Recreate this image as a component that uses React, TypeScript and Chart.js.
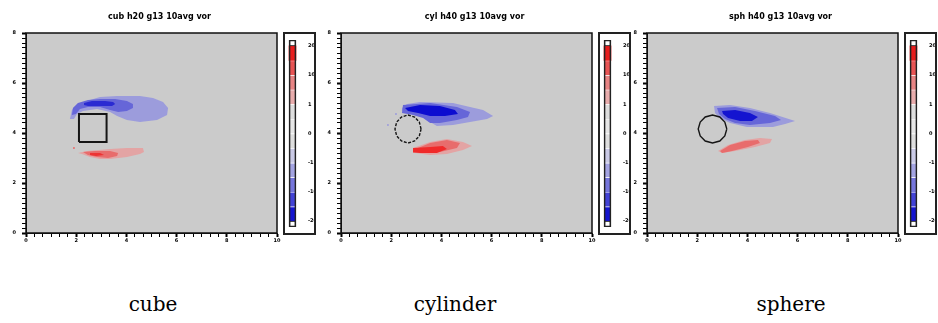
import React, { useEffect, useRef } from 'react';
import { Chart, registerables } from 'chart.js';
Chart.register(...registerables);

// ---------- axes ----------
const xMajorTicks = [0, 2, 4, 6, 8, 10];
const xMinorDivisions = 6;
const yMajorTicks = [0, 2, 4, 6, 8];
const yMinorDivisions = 10;
const xTickLabels = ['0', '2', '4', '6', '8', '10'];
const yTickLabels = ['0', '2', '4', '6', '8'];

// ---------- colour bar ----------
const cbEdges = [6, 5, 4, 3, 2, 1, 0, -1, -2, -3, -4, -5, -6];
const cbColors = ['#e81c1c', '#e85454', '#e88484', '#e8acac', '#dedede', '#e6e6e6', '#dedede', '#cacae6', '#a4a4e2', '#7676dc', '#4242d6', '#1414cf'];
const cbTickValues = [6, 4, 2, 0, -2, -4, -6];
const cbTickLabels = ['20', '10', '1', '0', '-1', '-10', '-20'];

// ---------- titles / captions ----------
const panelTitles = ['cub h20 g13 10avg vor', 'cyl h40 g13 10avg vor', 'sph h40 g13 10avg vor'];
const captions = ['cube', 'cylinder', 'sphere'];

// ---------- field contours (x, y in axis units) ----------
const cubeLightBlue = [[1.75, 4.56], [1.83, 4.92], [2.07, 5.16], [2.55, 5.32], [2.95, 5.44], [3.63, 5.48], [4.54, 5.48], [5.06, 5.40], [5.46, 5.24], [5.66, 5.00], [5.62, 4.72], [5.22, 4.52], [4.54, 4.44], [4.02, 4.52], [3.63, 4.68], [3.35, 4.84], [2.83, 4.96], [2.27, 4.88], [2.03, 4.76], [1.91, 4.56]];
const cubeMidBlue = [[1.83, 4.72], [1.87, 5.00], [2.07, 5.20], [2.47, 5.32], [2.95, 5.36], [3.55, 5.36], [4.02, 5.28], [4.26, 5.16], [4.26, 5.00], [4.02, 4.88], [3.67, 4.84], [3.35, 4.92], [2.95, 5.04], [2.47, 5.04], [2.15, 4.96], [1.99, 4.76]];
const cubeDarkBlue = [[2.31, 5.20], [2.63, 5.28], [3.15, 5.28], [3.47, 5.24], [3.55, 5.16], [3.43, 5.08], [2.95, 5.08], [2.47, 5.08], [2.31, 5.12]];
const cubeLightRed = [[2.07, 3.20], [2.43, 3.28], [3.35, 3.36], [4.02, 3.40], [4.66, 3.40], [4.70, 3.24], [4.54, 3.16], [4.02, 3.04], [3.35, 2.96], [2.95, 2.96], [2.55, 3.04], [2.23, 3.16]];
const cubeMidRed = [[2.27, 3.24], [2.75, 3.28], [3.35, 3.28], [3.67, 3.20], [3.63, 3.08], [3.27, 3.00], [2.83, 3.04], [2.47, 3.12]];
const cubeDarkRed = [[2.55, 3.20], [2.95, 3.20], [3.11, 3.12], [2.79, 3.08], [2.55, 3.12]];
const cubeSpecks = [[1.91, 3.40]];
const cubeOutline = [[2.11, 3.64], [3.21, 3.64], [3.21, 4.76], [2.11, 4.76], [2.11, 3.64]];

const cylLightBlue = [[2.43, 5.00], [2.63, 5.16], [3.15, 5.24], [4.46, 5.20], [5.14, 5.04], [5.66, 4.92], [6.06, 4.68], [5.82, 4.56], [5.14, 4.44], [4.46, 4.32], [3.82, 4.28], [3.55, 4.44], [3.27, 4.64], [3.03, 4.80], [2.63, 4.84], [2.43, 4.88]];
const cylMidBlue = [[2.47, 5.12], [3.55, 5.20], [4.62, 5.04], [5.14, 4.84], [5.06, 4.64], [4.62, 4.52], [3.94, 4.40], [3.55, 4.40], [3.27, 4.60], [2.87, 4.72], [2.43, 4.80]];
const cylDarkBlue = [[2.55, 5.00], [3.15, 5.12], [3.94, 5.08], [4.54, 4.92], [4.66, 4.76], [4.14, 4.68], [3.55, 4.68], [3.07, 4.80], [2.67, 4.88]];
const cylLightRed = [[2.87, 3.40], [3.55, 3.64], [4.22, 3.76], [4.86, 3.64], [5.22, 3.48], [4.86, 3.32], [4.22, 3.16], [3.55, 3.12], [2.95, 3.20]];
const cylMidRed = [[2.87, 3.32], [3.55, 3.60], [4.22, 3.72], [4.74, 3.60], [4.62, 3.40], [3.94, 3.24], [3.15, 3.20], [2.87, 3.20]];
const cylDarkRed = [[2.87, 3.40], [3.55, 3.44], [4.06, 3.48], [4.22, 3.36], [3.82, 3.20], [3.15, 3.20], [2.87, 3.24]];
const cylSpecks = [[1.87, 4.32], [2.19, 4.76]];
const cylOutline = [[3.19, 4.16], [3.12, 4.44], [2.93, 4.64], [2.67, 4.72], [2.41, 4.64], [2.22, 4.44], [2.15, 4.16], [2.22, 3.88], [2.41, 3.68], [2.67, 3.60], [2.93, 3.68], [3.12, 3.88], [3.19, 4.16]];

const sphLightBlue = [[2.67, 5.08], [3.31, 5.12], [4.10, 5.00], [4.90, 4.80], [5.90, 4.48], [5.50, 4.36], [5.02, 4.24], [3.98, 4.24], [3.31, 4.40], [2.91, 4.60], [2.71, 4.80]];
const sphMidBlue = [[2.79, 5.00], [3.51, 5.04], [4.30, 4.88], [5.10, 4.68], [5.34, 4.52], [4.90, 4.40], [4.10, 4.32], [3.51, 4.40], [3.11, 4.56], [2.87, 4.76]];
const sphDarkBlue = [[2.99, 4.88], [3.51, 4.92], [4.10, 4.80], [4.42, 4.64], [4.18, 4.48], [3.71, 4.48], [3.23, 4.60], [3.03, 4.76]];
const sphLightRed = [[2.83, 3.28], [3.23, 3.52], [3.90, 3.72], [4.50, 3.80], [4.98, 3.76], [4.90, 3.60], [4.30, 3.44], [3.51, 3.28], [2.99, 3.20]];
const sphMidRed = [[2.91, 3.28], [3.31, 3.52], [3.90, 3.68], [4.42, 3.72], [4.50, 3.60], [4.02, 3.44], [3.39, 3.28], [2.99, 3.20]];
const sphDarkRed: number[][] = [];
const sphSpecks: number[][] = [];
const sphOutline = [[3.18, 4.16], [3.10, 4.44], [2.90, 4.64], [2.61, 4.72], [2.32, 4.64], [2.12, 4.44], [2.04, 4.16], [2.12, 3.88], [2.32, 3.68], [2.61, 3.60], [2.90, 3.68], [3.10, 3.88], [3.18, 4.16]];

const COL = {
  bg: '#cbcbcb',
  lightBlue: '#9c9cdc',
  midBlue: '#6666d8',
  darkBlue: '#2a2ad2',
  lightRed: '#e3a4a4',
  midRed: '#e86c6c',
  darkRed: '#ec3434',
};

type Panel = {
  left: number; // plot-area left (page px)
  title: string;
  caption: string;
  captionX: number;
  regions: { pts: number[][]; color: string }[];
  specks: number[][];
  speckColor: string;
  outline: number[][];
  outlineDash: number[];
  outlineWidth: number;
};

const panels: Panel[] = [
  {
    left: 26, title: panelTitles[0], caption: captions[0], captionX: 153,
    regions: [
      { pts: cubeLightBlue, color: COL.lightBlue }, { pts: cubeMidBlue, color: COL.midBlue }, { pts: cubeDarkBlue, color: COL.darkBlue },
      { pts: cubeLightRed, color: COL.lightRed }, { pts: cubeMidRed, color: COL.midRed }, { pts: cubeDarkRed, color: COL.darkRed },
    ],
    specks: cubeSpecks, speckColor: COL.midRed, outline: cubeOutline, outlineDash: [], outlineWidth: 2,
  },
  {
    left: 341, title: panelTitles[1], caption: captions[1], captionX: 455,
    regions: [
      { pts: cylLightBlue, color: COL.lightBlue }, { pts: cylMidBlue, color: COL.midBlue }, { pts: cylDarkBlue, color: '#0c0cd0' },
      { pts: cylLightRed, color: COL.lightRed }, { pts: cylMidRed, color: COL.midRed }, { pts: cylDarkRed, color: '#f02a2a' },
    ],
    specks: cylSpecks, speckColor: COL.lightBlue, outline: cylOutline, outlineDash: [3, 1.5], outlineWidth: 1.4,
  },
  {
    left: 647, title: panelTitles[2], caption: captions[2], captionX: 791,
    regions: [
      { pts: sphLightBlue, color: COL.lightBlue }, { pts: sphMidBlue, color: COL.midBlue }, { pts: sphDarkBlue, color: '#1414d0' },
      { pts: sphLightRed, color: COL.lightRed }, { pts: sphMidRed, color: COL.midRed }, { pts: sphDarkRed, color: COL.darkRed },
    ],
    specks: sphSpecks, speckColor: COL.lightBlue, outline: sphOutline, outlineDash: [], outlineWidth: 1.4,
  },
];

const PLOT_OFFSET = 26; // y-axis band inside the canvas
const PLOT_W = 251;
const PLOT_TOP = 33;
const PLOT_H = 200;
const CANVAS_W = 285;
const CANVAS_H = 245;

function buildTicks(majors: number[], div: number) {
  const out: { value: number; major: boolean }[] = [];
  for (let i = 0; i < majors.length; i++) {
    out.push({ value: majors[i], major: true });
    if (i < majors.length - 1) {
      const step = (majors[i + 1] - majors[i]) / div;
      for (let k = 1; k < div; k++) out.push({ value: majors[i] + step * k, major: false });
    }
  }
  return out;
}

const framePlugin = {
  id: 'frame',
  beforeDraw(chart: any) {
    const { ctx, chartArea: a } = chart;
    ctx.save();
    ctx.fillStyle = COL.bg;
    ctx.fillRect(a.left, a.top, a.right - a.left, a.bottom - a.top);
    ctx.restore();
  },
  afterDraw(chart: any) {
    const { ctx, chartArea: a } = chart;
    ctx.save();
    ctx.strokeStyle = '#111';
    ctx.lineWidth = 1.5;
    ctx.strokeRect(a.left, a.top, a.right - a.left, a.bottom - a.top);
    ctx.restore();
  },
};

const toXY = (pts: number[][]) => pts.map(([x, y]) => ({ x, y }));

function makeAxis(majors: number[], div: number, labels: string[], min: number, max: number, isX: boolean) {
  return {
    type: 'linear',
    position: isX ? 'bottom' : 'left',
    min,
    max,
    afterBuildTicks: (s: any) => { s.ticks = buildTicks(majors, div); },
    afterFit: (s: any) => { if (isX) s.height = CANVAS_H - PLOT_TOP - PLOT_H; else s.width = PLOT_OFFSET; },
    ticks: {
      autoSkip: false,
      maxRotation: 0,
      padding: isX ? 1 : 6,
      color: '#000',
      font: { size: 5, weight: 'bold', family: 'DejaVu Sans' },
      callback: (v: number) => {
        const idx = majors.findIndex((m) => Math.abs(m - v) < 1e-6);
        return idx >= 0 ? labels[idx] : '';
      },
    },
    grid: {
      drawOnChartArea: false,
      drawTicks: true,
      tickLength: 4,
      tickColor: '#000',
      tickWidth: (c: any) => (c.tick && c.tick.major ? 2 : 1),
    },
    border: { display: true, color: '#111', width: 1 },
  };
}

function PlotCanvas({ panel }: { panel: Panel }) {
  const ref = useRef<HTMLCanvasElement>(null);
  useEffect(() => {
    const datasets: any[] = [];
    panel.regions.forEach((r, i) => {
      if (!r.pts.length) return;
      datasets.push({
        data: toXY(r.pts),
        showLine: true,
        fill: 'shape',
        backgroundColor: r.color,
        borderColor: 'rgba(0,0,0,0)',
        borderWidth: 1,
        pointRadius: 0,
        tension: 0,
        order: 10 - (i % 3),
      });
    });
    if (panel.specks.length) {
      datasets.push({
        data: toXY(panel.specks),
        showLine: false,
        pointRadius: 1,
        pointBorderWidth: 0,
        pointBackgroundColor: panel.speckColor,
        order: 5,
      });
    }
    datasets.push({
      data: toXY(panel.outline),
      showLine: true,
      fill: false,
      borderColor: '#151515',
      borderWidth: panel.outlineWidth,
      borderDash: panel.outlineDash,
      pointRadius: 0,
      tension: 0,
      order: 0,
    });
    const chart = new Chart(ref.current as HTMLCanvasElement, {
      type: 'scatter',
      data: { datasets },
      options: {
        animation: false,
        responsive: false,
        events: [],
        layout: { padding: { top: PLOT_TOP, left: 0, right: CANVAS_W - PLOT_OFFSET - PLOT_W, bottom: 0 } },
        plugins: { legend: { display: false }, tooltip: { enabled: false }, title: { display: false } },
        scales: {
          x: makeAxis(xMajorTicks, xMinorDivisions, xTickLabels, 0, 10, true),
          y: makeAxis(yMajorTicks, yMinorDivisions, yTickLabels, 0, 8, false),
        },
      } as any,
      plugins: [framePlugin],
    });
    return () => chart.destroy();
  }, [panel]);
  return (
    <canvas
      ref={ref}
      width={CANVAS_W}
      height={CANVAS_H}
      style={{ position: 'absolute', left: panel.left - PLOT_OFFSET, top: 0, width: CANVAS_W, height: CANVAS_H }}
    />
  );
}

const CB_W = 29;
const CB_H = 199;

function ColorBar({ left }: { left: number }) {
  const ref = useRef<HTMLCanvasElement>(null);
  useEffect(() => {
    const datasets: any[] = cbColors.map((c, i) => ({
      data: [[cbEdges[i + 1], cbEdges[i]]],
      backgroundColor: c,
      borderColor: 'rgba(255,255,255,0.85)',
      borderWidth: { top: i === 0 ? 0 : 1, bottom: 0, left: 0, right: 0 },
      borderSkipped: false,
      barThickness: 7,
      grouped: false,
      order: 3,
    }));
    datasets.push({ data: [[cbEdges[0], cbEdges[0] + 0.4]], backgroundColor: '#fff', borderColor: '#111', borderWidth: 1, borderSkipped: false, barThickness: 6, grouped: false, order: 2 });
    datasets.push({ data: [[cbEdges[cbEdges.length - 1] - 0.4, cbEdges[cbEdges.length - 1]]], backgroundColor: '#fff', borderColor: '#111', borderWidth: 1, borderSkipped: false, barThickness: 6, grouped: false, order: 2 });
    datasets.push({ data: [[cbEdges[cbEdges.length - 1] - 0.4, cbEdges[0] + 0.4]], backgroundColor: 'rgba(0,0,0,0)', borderColor: '#222', borderWidth: 1, borderSkipped: false, barThickness: 7, grouped: false, order: 1 });
    const chart = new Chart(ref.current as HTMLCanvasElement, {
      type: 'bar',
      data: { labels: [''], datasets },
      options: {
        animation: false,
        responsive: false,
        events: [],
        layout: { padding: { left: 3, top: 6, bottom: 2, right: 0 } },
        plugins: { legend: { display: false }, tooltip: { enabled: false } },
        scales: {
          x: { display: false },
          y: {
            position: 'right',
            min: -6.4,
            max: 6.4,
            afterBuildTicks: (s: any) => { s.ticks = cbTickValues.map((v) => ({ value: v })); },
            afterFit: (s: any) => { s.width = 17; },
            ticks: {
              autoSkip: false,
              padding: 3,
              color: '#000',
              font: { size: 5, weight: 'bold', family: 'DejaVu Sans' },
              callback: (v: number) => {
                const idx = cbTickValues.indexOf(v);
                return idx >= 0 ? cbTickLabels[idx] : '';
              },
            },
            grid: { display: false },
            border: { display: false },
          },
        },
      } as any,
    });
    return () => chart.destroy();
  }, [left]);
  return (
    <div style={{ position: 'absolute', left, top: 32, width: 33, height: 203, border: '2px solid #222', boxSizing: 'border-box' }}>
      <canvas ref={ref} width={CB_W} height={CB_H} style={{ display: 'block', width: CB_W, height: CB_H }} />
    </div>
  );
}

export default function App() {
  return (
    <div style={{ position: 'absolute', left: 0, top: 0, width: 938, height: 323, background: '#fff', overflow: 'hidden' }}>
      {panels.map((p, i) => (
        <React.Fragment key={i}>
          <PlotCanvas panel={p} />
          <ColorBar left={p.left + PLOT_W + 6} />
          <div
            style={{
              position: 'absolute', left: p.left + PLOT_W / 2 + 8 - 80, top: 12, width: 160, textAlign: 'center',
              font: 'bold 8px "DejaVu Sans"', color: '#000', whiteSpace: 'nowrap',
            }}
          >
            {p.title}
          </div>
          <div
            style={{
              position: 'absolute', left: p.captionX - 80, top: 292, width: 160, textAlign: 'center',
              font: '20px "DejaVu Serif"', color: '#000', whiteSpace: 'nowrap',
            }}
          >
            {p.caption}
          </div>
        </React.Fragment>
      ))}
    </div>
  );
}
